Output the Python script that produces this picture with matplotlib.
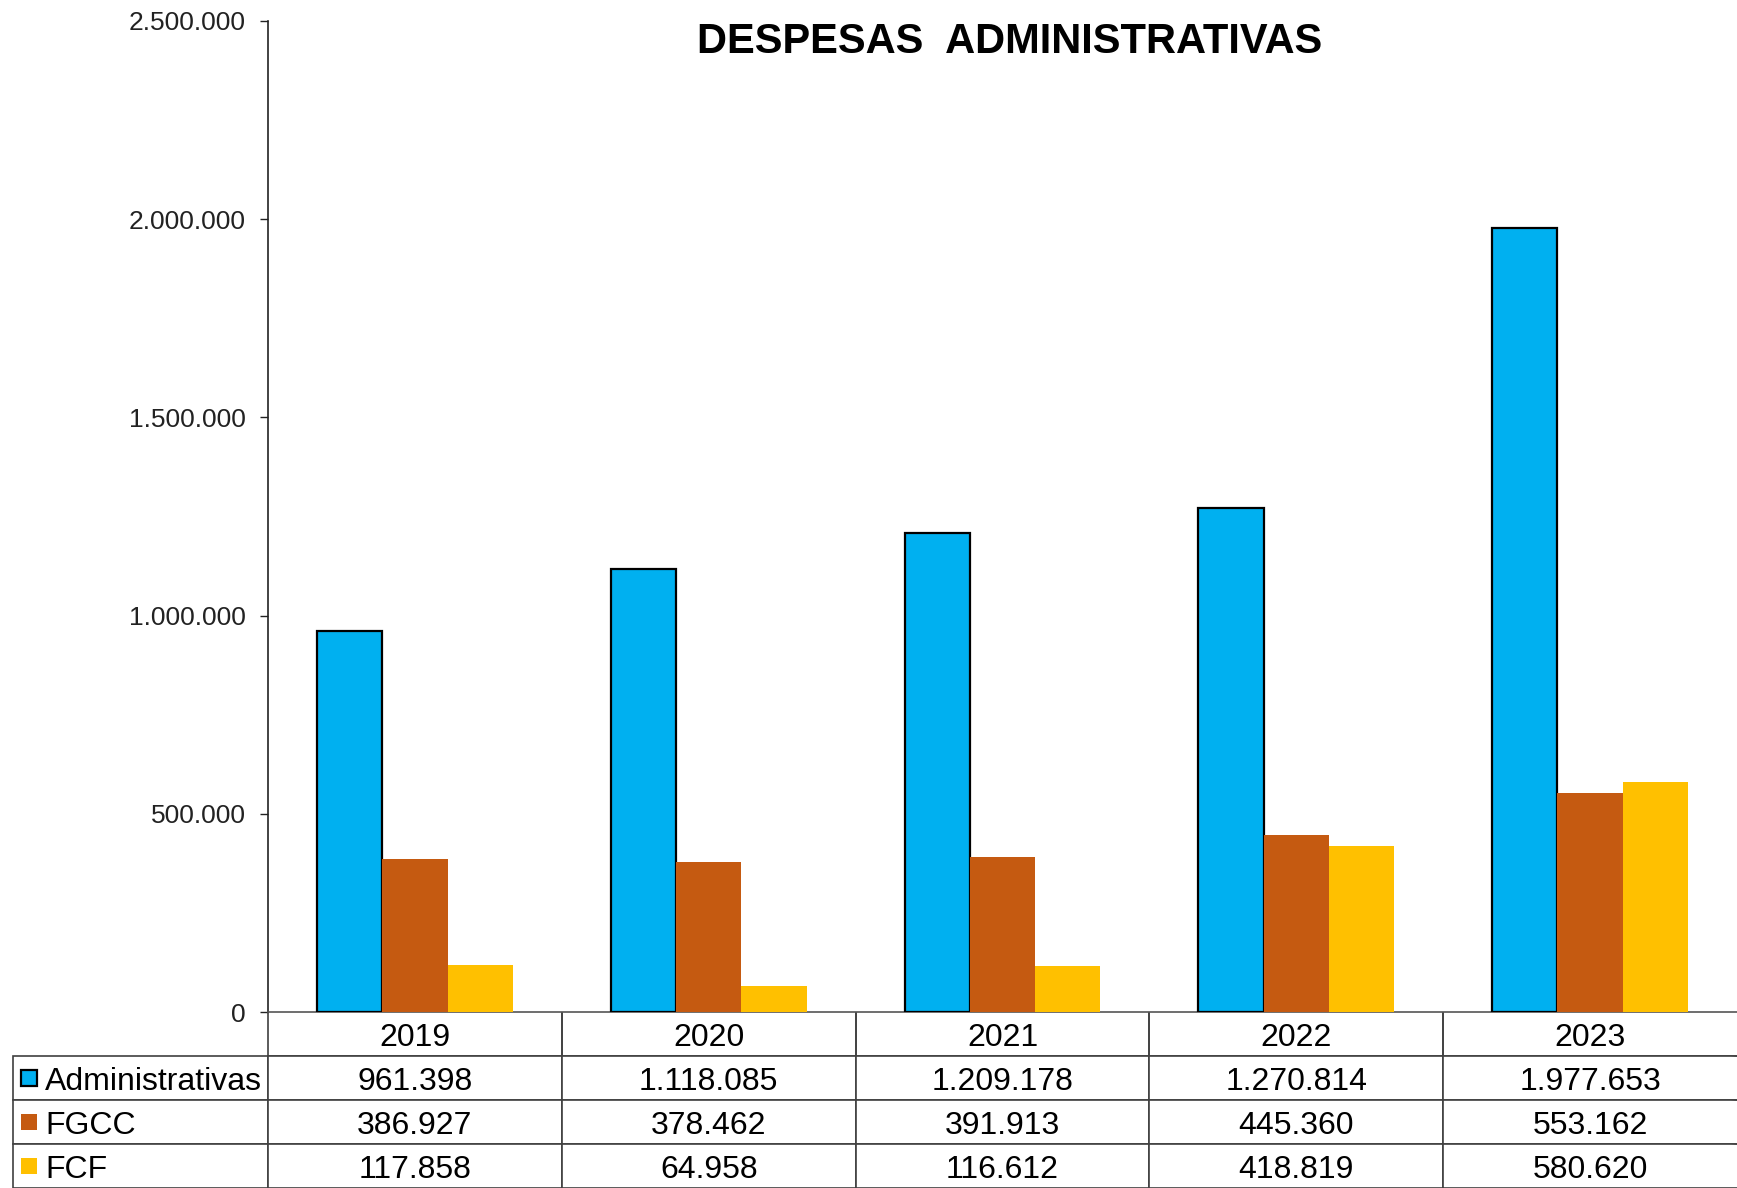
import matplotlib.pyplot as plt
import numpy as np
from matplotlib.patches import Rectangle
from matplotlib.ticker import FuncFormatter, MultipleLocator

plt.rcParams["font.family"] = ["Liberation Sans", "DejaVu Sans"]

years = ["2019", "2020", "2021", "2022", "2023"]
series_names = ["Administrativas", "FGCC", "FCF"]
administrativas = [961398, 1118085, 1209178, 1270814, 1977653]
fgcc = [386927, 378462, 391913, 445360, 553162]
fcf = [117858, 64958, 116612, 418819, 580620]
colors = ["#00B0F0", "#C55A11", "#FFC000"]


def br_number(v):
    return f"{v:,.0f}".replace(",", ".")


W, H = 1737, 1188
fig = plt.figure(figsize=(W / 100, H / 100), dpi=100)
ax = fig.add_axes([268 / W, 1 - 1012 / H, 1469 / W, 991 / H])

series = [administrativas, fgcc, fcf]
x = np.arange(len(years))
width = 2 / 9
for i, (vals, c) in enumerate(zip(series, colors)):
    if i == 0:
        kw = dict(edgecolor="black", linewidth=1.6)
    else:
        kw = dict(linewidth=0)
    ax.bar(x + (i - 1) * width, vals, width, color=c, zorder=3, **kw)

ax.set_xlim(-0.5, len(years) - 0.5)
ax.set_ylim(0, 2500000)
ax.yaxis.set_major_locator(MultipleLocator(500000))
ax.yaxis.set_major_formatter(FuncFormatter(lambda v, _: br_number(v)))
ax.tick_params(axis="y", direction="out", length=6, width=1, pad=10,
               labelsize=19, colors="#222222")
ax.tick_params(axis="x", bottom=False, labelbottom=False)
for side in ("top", "right"):
    ax.spines[side].set_visible(False)
ax.spines["left"].set_color("#222222")
ax.spines["bottom"].set_color("#555555")
ax.spines["left"].set_linewidth(1.2)
ax.spines["bottom"].set_linewidth(1.2)

fig.text(1010 / W, 1 - 42 / H, "DESPESAS  ADMINISTRATIVAS", ha="center",
         va="center", fontsize=30, fontweight="bold")

# data table under the axis
cell_text = [[""] + years]
for name, vals in zip(series_names, series):
    cell_text.append([name] + [br_number(v) for v in vals])

label_w = 255 / 1469
tbl_h = 176 / 991
tbl = ax.table(cellText=cell_text, colWidths=[label_w] + [0.2] * len(years),
               bbox=[-label_w, -tbl_h, 1 + label_w, tbl_h], cellLoc="center")
tbl.auto_set_font_size(False)
tbl.set_fontsize(23)
last = len(years)
for (r, c), cell in tbl.get_celld().items():
    cell.set_edgecolor("#404040")
    cell.set_linewidth(1.2)
    cell.get_text().set_verticalalignment("center_baseline")
    if r == 0 and c == 0:
        cell.visible_edges = ""
    elif r == 0:
        cell.visible_edges = "LB" if c == last else "LRB"
    elif c == last:
        cell.visible_edges = "LTB"
    if c == 0 and r > 0:
        cell.get_text().set_horizontalalignment("left")
        cell.PAD = 32 / 255

# legend keys in the row labels
ax_w, ax_h = 1469, 991
for i, c in enumerate(colors):
    cy = -(44 * (i + 1) + 22) / ax_h
    ec = "black" if i == 0 else "none"
    ax.add_patch(Rectangle(((21 - 268) / ax_w, cy - 8 / ax_h), 16 / ax_w, 16 / ax_h,
                           transform=ax.transAxes, facecolor=c, edgecolor=ec,
                           linewidth=1.6, clip_on=False))

fig.savefig("out.png", dpi=100)
